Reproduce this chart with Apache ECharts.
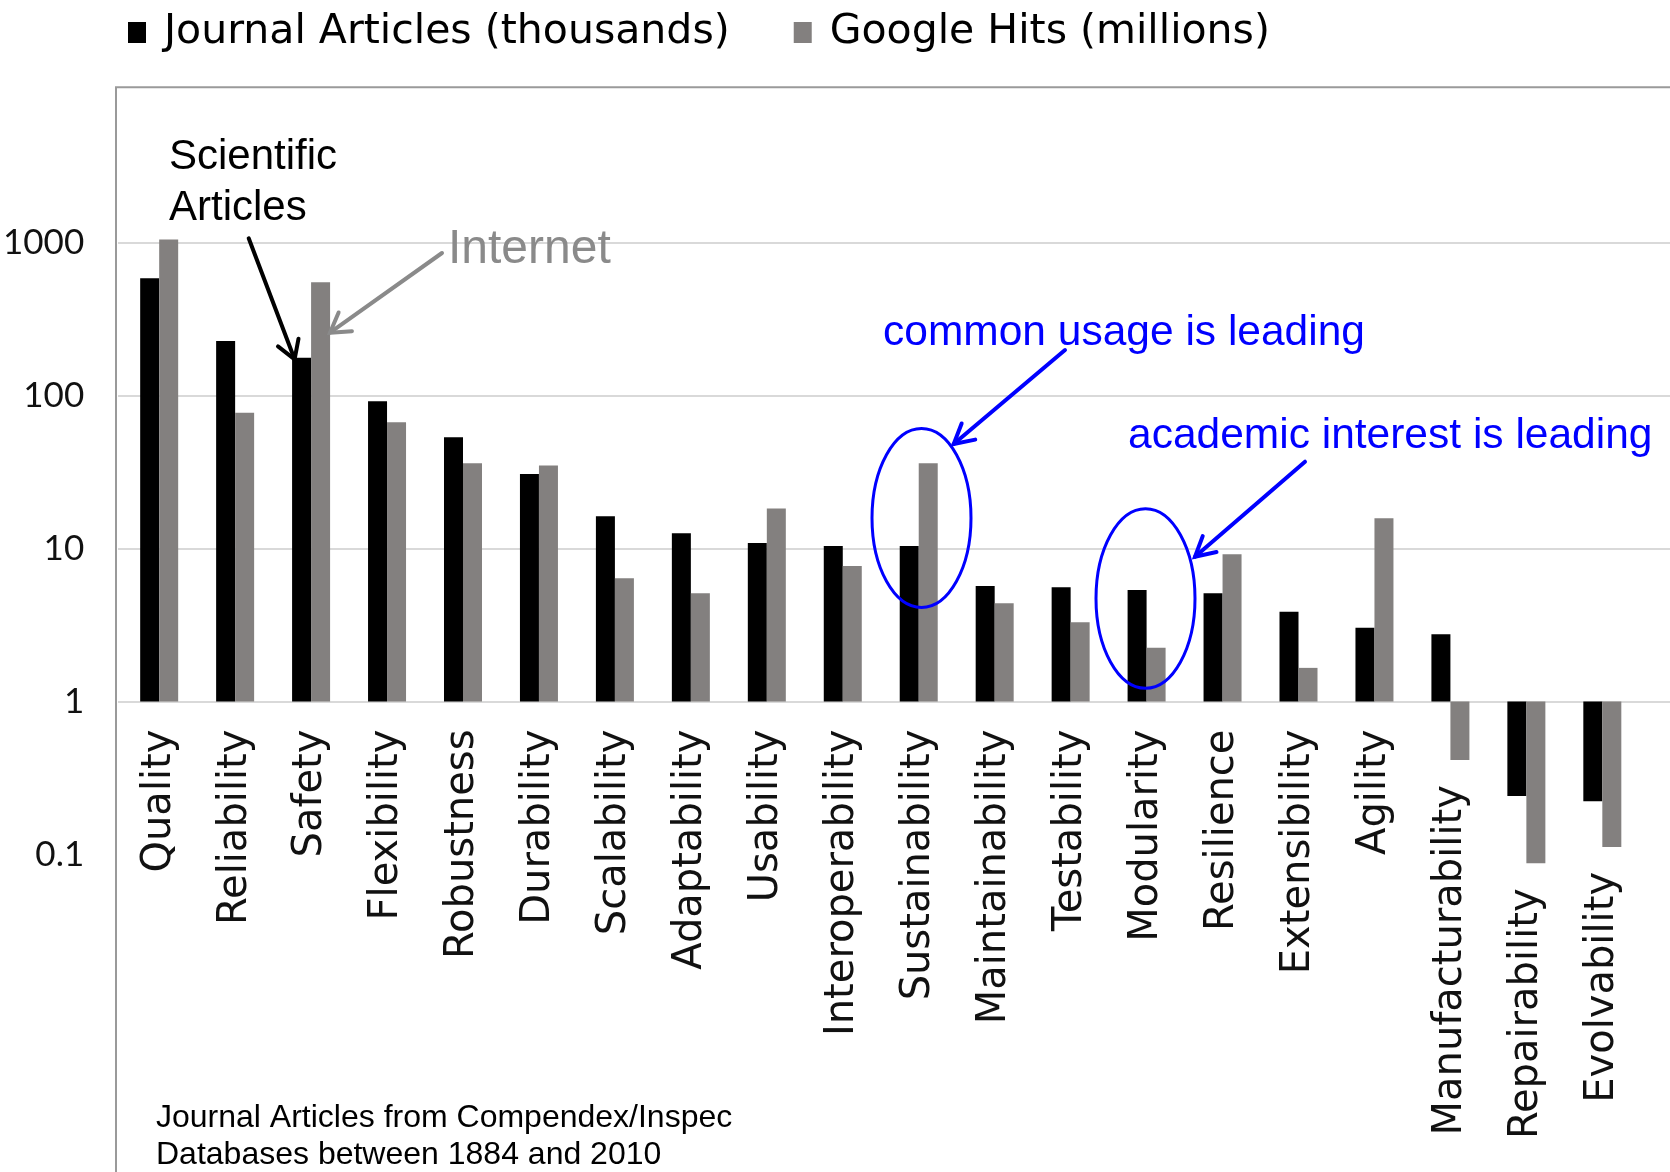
<!DOCTYPE html>
<html>
<head>
<meta charset="utf-8">
<script src="https://cdn.jsdelivr.net/npm/echarts@6/dist/echarts.min.js"></script>
<style>
html,body{margin:0;padding:0;background:#fff;}
#chart{width:1670px;height:1172px;}
</style>
</head>
<body>
<div id="chart"></div>
<script>
// ---- data ----
var categories = ['Quality','Reliability','Safety','Flexibility','Robustness','Durability','Scalability','Adaptability','Usability','Interoperability','Sustainability','Maintainability','Testability','Modularity','Resilience','Extensibility','Agility','Manufacturability','Repairability','Evolvability'];
var journalArticles = [585, 228, 177, 92, 53.4, 30.7, 16.3, 12.6, 10.9, 10.4, 10.4, 5.7, 5.58, 5.36, 5.1, 3.87, 3.04, 2.75, 0.241, 0.223];
var googleHits = [1050, 77.3, 551, 66.9, 36.1, 35.0, 6.4, 5.1, 18.3, 7.7, 36.1, 4.4, 3.3, 2.25, 9.2, 1.66, 15.8, 0.414, 0.0875, 0.112];
var seriesNames = ['Journal Articles (thousands)', 'Google Hits (millions)'];
var yTickLabels = ['0.1', '1', '10', '100', '1000'];

var chart = echarts.init(document.getElementById('chart'), null, {renderer: 'canvas'});

var gridTop = 89.8, gridH = 917.6;
var decadePx = gridH / 6;
var axisOneY = gridTop + gridH * 4 / 6;          // position of value 1
var xAxisOffset = -(gridTop + gridH - axisOneY);

// labels of categories whose bars hang below 1 are pushed below those bars
var labelFont = {fontFamily: '"DejaVu Sans", sans-serif', fontSize: 40, color: '#111'};
var rich = {};
categories.forEach(function (c, i) {
  var lo = Math.min(journalArticles[i], googleHits[i]);
  var pad = lo < 1 ? Math.max(0, -Math.log10(lo) * decadePx - 3) : 0;
  rich['c' + i] = Object.assign({padding: [0, pad, 0, 0]}, labelFont);
});

function arrow(x1, y1, x2, y2, color, w, head, spread) {
  var a = Math.atan2(y2 - y1, x2 - x1);
  var p1 = [x2 - head * Math.cos(a - spread), y2 - head * Math.sin(a - spread)];
  var p2 = [x2 - head * Math.cos(a + spread), y2 - head * Math.sin(a + spread)];
  return [
    {type: 'line', shape: {x1: x1, y1: y1, x2: x2, y2: y2}, style: {stroke: color, lineWidth: w, lineCap: 'round'}, z: 100},
    {type: 'polyline', shape: {points: [p1, [x2, y2], p2]}, style: {stroke: color, lineWidth: w, fill: null, lineJoin: 'miter', lineCap: 'round'}, z: 100}
  ];
}

var graphics = [
  {type: 'polyline', shape: {points: [[116, 1200], [116, 87.3], [1700, 87.3]]}, style: {stroke: '#9a9a9a', lineWidth: 2, fill: null}, z: 1},
  {type: 'text', style: {x: 169, y: 157, text: 'Scientific', font: '42px "Liberation Sans", Arial, sans-serif', fill: '#000', verticalAlign: 'middle'}, z: 100},
  {type: 'text', style: {x: 169, y: 208.7, text: 'Articles', font: '42px "Liberation Sans", Arial, sans-serif', fill: '#000', verticalAlign: 'middle'}, z: 100},
  {type: 'text', style: {x: 448, y: 250, text: 'Internet', font: '48px "Liberation Sans", Arial, sans-serif', fill: '#8a8a8a', verticalAlign: 'middle'}, z: 100},
  {type: 'text', style: {x: 883, y: 333.7, text: 'common usage is leading', font: '42.5px "Liberation Sans", Arial, sans-serif', fill: '#0000ff', verticalAlign: 'middle'}, z: 100},
  {type: 'text', style: {x: 1128, y: 436.3, text: 'academic interest is leading', font: '42.5px "Liberation Sans", Arial, sans-serif', fill: '#0000ff', verticalAlign: 'middle'}, z: 100},
  {type: 'text', style: {x: 156, y: 1118, text: 'Journal Articles from Compendex/Inspec', font: '32px "Liberation Sans", Arial, sans-serif', fill: '#000', verticalAlign: 'middle'}, z: 100},
  {type: 'text', style: {x: 156, y: 1155, text: 'Databases between 1884 and 2010', font: '32px "Liberation Sans", Arial, sans-serif', fill: '#000', verticalAlign: 'middle'}, z: 100},
  {type: 'ellipse', shape: {cx: 921.5, cy: 518, rx: 49.5, ry: 89.5}, style: {stroke: '#0000ff', lineWidth: 3, fill: null}, z: 100},
  {type: 'ellipse', shape: {cx: 1145.5, cy: 598.5, rx: 49.5, ry: 89.7}, style: {stroke: '#0000ff', lineWidth: 3, fill: null}, z: 100}
]
.concat(arrow(248.7, 238.3, 294.6, 359.3, '#000', 4, 21, 0.55))
.concat(arrow(442, 253, 330, 332.7, '#8a8a8a', 4, 22, 0.55))
.concat(arrow(1065, 350, 953.7, 444, '#0000ff', 4, 22, 0.5))
.concat(arrow(1305, 461.7, 1195, 556.7, '#0000ff', 4, 22, 0.5));

var option = {
  backgroundColor: '#ffffff',
  animation: false,
  legend: {
    left: 123, top: 7,
    itemWidth: 18, itemHeight: 21, itemGap: 64,
    icon: 'rect',
    data: seriesNames,
    textStyle: {fontFamily: '"DejaVu Sans", sans-serif', fontSize: 41, color: '#000', padding: [0, 0, 0, 13]}
  },
  grid: [
    {left: 119.3, top: gridTop, width: 1521, height: gridH},
    {left: 118, top: gridTop, right: 0, height: gridH}
  ],
  xAxis: [
    {
      type: 'category', gridIndex: 0, data: categories, offset: xAxisOffset,
      axisLine: {show: false}, axisTick: {show: false},
      axisLabel: Object.assign({
        rotate: 90, interval: 0, margin: 28, rich: rich,
        formatter: function (v, i) { return '{c' + i + '|' + v + '}'; }
      }, labelFont)
    },
    {type: 'value', gridIndex: 1, min: 0, max: 1, show: false}
  ],
  yAxis: [
    {
      type: 'log', gridIndex: 0, logBase: 10, min: 0.01, max: 10000,
      axisLine: {show: false}, axisTick: {show: false}, splitLine: {show: false},
      axisLabel: {
        margin: 37, fontFamily: 'Lato, sans-serif', fontSize: 35, color: '#111',
        formatter: function (v) {
          var e = Math.round(Math.log10(v));
          var idx = e + 1;
          return (idx >= 0 && idx < yTickLabels.length) ? yTickLabels[idx] : '';
        }
      }
    },
    {
      type: 'log', gridIndex: 1, logBase: 10, min: 0.01, max: 10000,
      axisLine: {show: false}, axisTick: {show: false}, axisLabel: {show: false},
      splitLine: {show: true, lineStyle: {width: 2, color: ['rgba(0,0,0,0)', 'rgba(0,0,0,0)', '#d9d9d9', '#d9d9d9', '#d9d9d9', '#d9d9d9', 'rgba(0,0,0,0)']}}
    }
  ],
  series: [
    {name: seriesNames[0], type: 'bar', xAxisIndex: 0, yAxisIndex: 0, data: journalArticles, barWidth: 19, barGap: '0%', itemStyle: {color: '#000000'}, z: 5},
    {name: seriesNames[1], type: 'bar', xAxisIndex: 0, yAxisIndex: 0, data: googleHits, barWidth: 19, barGap: '0%', itemStyle: {color: '#83807f'}, z: 5}
  ],
  graphic: graphics
};
chart.setOption(option);
</script>
</body>
</html>
